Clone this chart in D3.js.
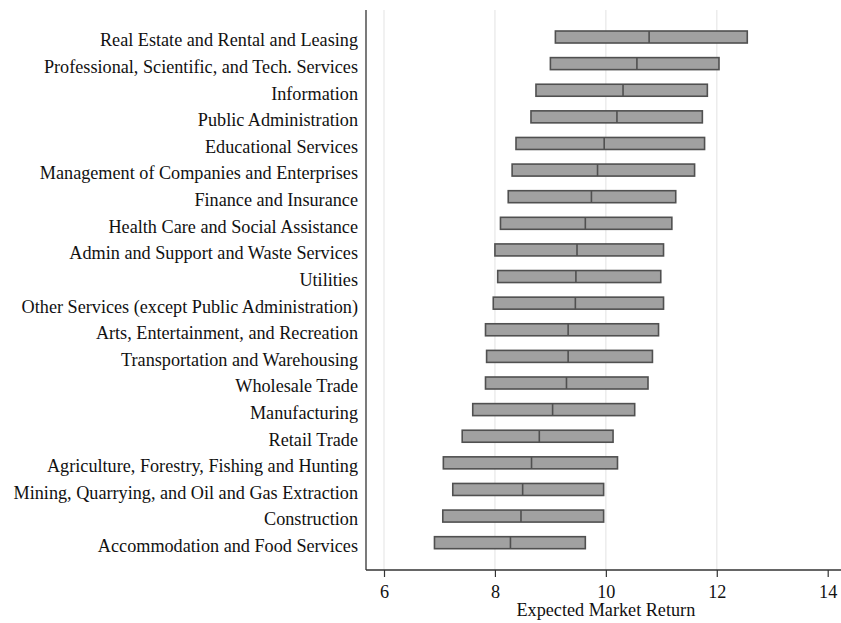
<!DOCTYPE html>
<html>
<head>
<meta charset="utf-8">
<script src="https://cdn.jsdelivr.net/npm/d3@7"></script>
<style>
  body { margin: 0; background: #fff; }
  text { font-family: "Liberation Serif", "Times New Roman", serif; }
</style>
</head>
<body>
<div id="chart"></div>
<script>
const industries = [
  'Real Estate and Rental and Leasing',
  'Professional, Scientific, and Tech. Services',
  'Information',
  'Public Administration',
  'Educational Services',
  'Management of Companies and Enterprises',
  'Finance and Insurance',
  'Health Care and Social Assistance',
  'Admin and Support and Waste Services',
  'Utilities',
  'Other Services (except Public Administration)',
  'Arts, Entertainment, and Recreation',
  'Transportation and Warehousing',
  'Wholesale Trade',
  'Manufacturing',
  'Retail Trade',
  'Agriculture, Forestry, Fishing and Hunting',
  'Mining, Quarrying, and Oil and Gas Extraction',
  'Construction',
  'Accommodation and Food Services'
];
const lower = [9.09, 9.00, 8.74, 8.65, 8.38, 8.31, 8.24, 8.10, 8.00, 8.05,
               7.97, 7.83, 7.85, 7.83, 7.60, 7.41, 7.07, 7.24, 7.06, 6.91];
const median = [10.78, 10.56, 10.31, 10.20, 9.97, 9.85, 9.74, 9.63, 9.48, 9.46,
                9.45, 9.32, 9.32, 9.29, 9.04, 8.80, 8.66, 8.50, 8.47, 8.28];
const upper = [12.55, 12.04, 11.83, 11.74, 11.78, 11.60, 11.26, 11.19, 11.04, 10.99,
               11.04, 10.95, 10.84, 10.76, 10.52, 10.13, 10.21, 9.96, 9.96, 9.63];
const xTicks = [6, 8, 10, 12, 14];

const width = 841, height = 623;
const margin = {top: 10, left: 366, right: 0, bottom: 53};
const plotBottom = height - margin.bottom;
const fontSize = '18.2px';

const svg = d3.select('#chart')
  .append('svg')
    .attr('width', width)
    .attr('height', height);

const x = d3.scaleLinear()
  .domain([6, 14])
  .range([384, 827.7]);

const y = d3.scaleBand()
  .domain(industries)
  .range([23.7, 556]);

// grid lines
svg.append('g')
  .selectAll('line')
  .data(xTicks.slice(0, 4))
  .enter()
    .append('line')
      .attr('x1', d => x(d))
      .attr('x2', d => x(d))
      .attr('y1', margin.top)
      .attr('y2', plotBottom)
      .attr('stroke', '#ececec')
      .attr('stroke-width', 1.5);

const rows = industries.map((name, i) => ({name, lo: lower[i], med: median[i], hi: upper[i]}));
const boxH = 12;

const boxes = svg.append('g')
  .selectAll('g')
  .data(rows)
  .enter()
    .append('g')
      .attr('transform', d => `translate(0,${y(d.name) + y.bandwidth() / 2})`);

boxes.append('rect')
  .attr('x', d => x(d.lo))
  .attr('y', -boxH / 2)
  .attr('width', d => x(d.hi) - x(d.lo))
  .attr('height', boxH)
  .attr('fill', '#a1a1a1')
  .attr('stroke', '#505050')
  .attr('stroke-width', 1.6);

boxes.append('line')
  .attr('x1', d => x(d.med))
  .attr('x2', d => x(d.med))
  .attr('y1', -boxH / 2)
  .attr('y2', boxH / 2)
  .attr('stroke', '#505050')
  .attr('stroke-width', 1.6);

// category labels
svg.append('g')
  .selectAll('text')
  .data(industries)
  .enter()
    .append('text')
      .attr('x', 358)
      .attr('y', d => y(d) + y.bandwidth() / 2 + 3)
      .attr('dy', '0.35em')
      .attr('text-anchor', 'end')
      .style('font-size', fontSize)
      .attr('fill', '#111')
      .text(d => d);

// y axis line
svg.append('line')
  .attr('x1', margin.left)
  .attr('x2', margin.left)
  .attr('y1', margin.top)
  .attr('y2', plotBottom)
  .attr('stroke', '#333')
  .attr('stroke-width', 1.3);

// x axis
const xAxis = d3.axisBottom(x)
  .tickValues(xTicks)
  .tickSize(7)
  .tickPadding(8)
  .tickFormat(d3.format('d'));

const gx = svg.append('g')
  .attr('transform', `translate(0,${plotBottom})`)
  .call(xAxis);
gx.select('.domain')
  .attr('d', `M${margin.left},0H${width}`)
  .attr('stroke', '#333')
  .attr('stroke-width', 1.3);
gx.selectAll('.tick line').attr('stroke', '#333').attr('stroke-width', 1.2);
gx.selectAll('.tick text')
  .style('font-size', fontSize)
  .style('font-family', '"Liberation Serif", serif')
  .attr('fill', '#111');

// x axis title
svg.append('text')
  .attr('x', x(10))
  .attr('y', 616)
  .attr('text-anchor', 'middle')
  .style('font-size', fontSize)
  .attr('fill', '#111')
  .text('Expected Market Return');
</script>
</body>
</html>
